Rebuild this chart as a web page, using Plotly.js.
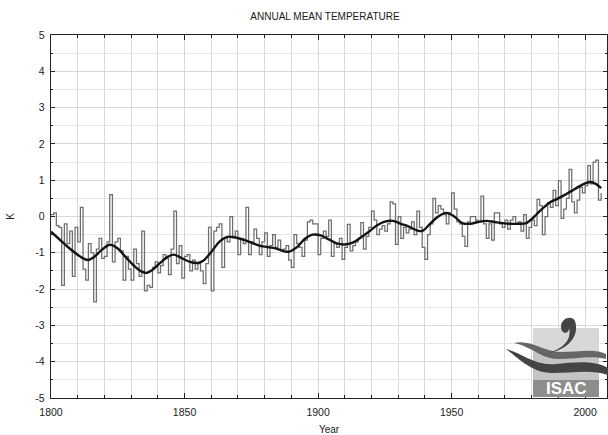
<!DOCTYPE html>
<html>
<head>
<meta charset="utf-8">
<script src="https://cdn.plot.ly/plotly-3.0.1.min.js"></script>
<style>
  html, body { margin: 0; padding: 0; background: #ffffff; }
  #chart { width: 608px; height: 435px; }
</style>
</head>
<body>
<div id="chart"></div>
<script>
// ---- data ----
const startYear = 1800;
const annualTemps = [
  0.05, 0.1, -0.25, -0.3, -1.9, -0.2, -0.75, -0.4, -1.65, -0.3,      // 1800-1809
  -0.7, 0.25, -1.45, -1.75, -0.75, -1.0, -2.35, -0.9, -0.6, -1.15,   // 1810-1819
  -1.1, -0.7, 0.6, -1.25, -0.7, -0.6, -0.95, -1.75, -1.1, -1.45,     // 1820-1829
  -1.75, -0.9, -1.3, -1.65, -0.4, -2.05, -1.9, -1.95, -1.4, -1.25,   // 1830-1839
  -1.55, -1.35, -1.05, -1.15, -1.6, -0.9, 0.15, -1.3, -0.8, -1.7,    // 1840-1849
  -1.1, -1.05, -1.5, -1.2, -1.45, -1.3, -1.5, -1.85, -1.3, -0.3,     // 1850-1859
  -2.05, -0.4, -0.3, -0.2, -1.4, -0.6, -0.7, 0.0, -0.55, -0.4,       // 1860-1869
  -1.05, -0.6, -0.75, 0.25, -1.05, -0.7, -0.35, -0.6, -1.05, -0.7,   // 1870-1879
  -0.45, -1.1, -0.8, -0.5, -0.85, -0.65, -0.95, -0.9, -0.8, -1.2,    // 1880-1889
  -1.4, -0.5, -0.75, -0.85, -1.1, -0.65, -0.15, -0.1, -0.2, -0.2,    // 1890-1899
  -1.05, -0.6, -0.4, -0.55, -0.1, -1.1, -0.75, -0.85, -0.6, -1.18,   // 1900-1909
  -0.85, -0.22, -0.95, -0.8, -0.7, -0.6, -0.17, -0.9, -0.55, -0.3,   // 1910-1919
  0.15, -0.1, -0.5, -0.35, -0.25, -0.4, -0.2, 0.4, 0.35, -0.77,      // 1920-1929
  0.0, -0.6, -0.3, -0.45, -0.35, -0.15, -0.5, 0.15, -0.3, -0.85,     // 1930-1939
  -1.18, -0.5, -0.2, 0.5, 0.1, 0.3, 0.2, 0.05, -0.2, 0.1,            // 1940-1949
  0.65, 0.2, -0.15, -0.2, -0.55, -0.82, -0.15, 0.0, 0.0, -0.1,       // 1950-1959
  -0.15, 0.56, -0.2, -0.6, -0.2, -0.65, 0.1, 0.1, -0.2, -0.3,        // 1960-1969
  -0.1, -0.35, -0.1, 0.0, -0.2, -0.15, -0.4, 0.05, -0.6, -0.3,       // 1970-1979
  -0.1, -0.25, 0.47, 0.3, -0.5, 0.0, 0.38, 0.25, 0.72, 0.3,          // 1980-1989
  0.98, -0.05, 0.2, 0.5, 1.3, 0.4, 0.1, 0.45, 0.8, 0.65,             // 1990-1999
  0.85, 1.4, 0.9, 1.5, 1.55, 0.45, 0.65                              // 2000-2006
];
const years = annualTemps.map((_, i) => startYear + i);

const smoothYears = [
  1800, 1803, 1806, 1809, 1812, 1814, 1816, 1819, 1822, 1825, 1828, 1831, 1834, 1836, 1838,
  1841, 1844, 1846, 1849, 1852, 1855, 1857, 1860, 1863, 1866, 1869, 1872, 1875, 1878, 1881,
  1884, 1887, 1889, 1892, 1895, 1898, 1901, 1904, 1907, 1910, 1913, 1916, 1919, 1922, 1925,
  1928, 1931, 1934, 1937, 1939, 1942, 1945, 1948, 1951, 1954, 1957, 1960, 1963, 1966, 1969,
  1972, 1975, 1978, 1981, 1983, 1985, 1987, 1990, 1993, 1996, 1999, 2002, 2004, 2006
];
const smoothTemps = [
  -0.42, -0.62, -0.82, -1.0, -1.15, -1.2, -1.12, -0.92, -0.78, -0.88, -1.12, -1.35, -1.52, -1.55, -1.47,
  -1.27, -1.1, -1.05, -1.15, -1.25, -1.28, -1.22, -0.98, -0.7, -0.56, -0.58, -0.64, -0.72, -0.8, -0.84,
  -0.88, -0.95, -0.97, -0.85, -0.62, -0.5, -0.52, -0.63, -0.74, -0.77, -0.72, -0.58, -0.42, -0.25, -0.14,
  -0.12, -0.2, -0.28, -0.38, -0.4, -0.2, 0.0, 0.1, 0.0, -0.18, -0.2, -0.15, -0.12, -0.15, -0.18,
  -0.2, -0.2, -0.18, 0.0, 0.15, 0.28, 0.4, 0.5, 0.62, 0.75, 0.88, 0.95, 0.9, 0.78
];

const xTickVals = [1800, 1850, 1900, 1950, 2000];
const yTickVals = [-5, -4, -3, -2, -1, 0, 1, 2, 3, 4, 5];

// ---- chart ----
const traces = [
  {
    x: years, y: annualTemps, type: 'scatter', mode: 'lines',
    line: { shape: 'hv', color: '#6e6e6e', width: 1.25 },
    hoverinfo: 'skip', showlegend: false
  },
  {
    x: smoothYears, y: smoothTemps, type: 'scatter', mode: 'lines',
    line: { shape: 'spline', smoothing: 1, color: '#141414', width: 2.4 },
    hoverinfo: 'skip', showlegend: false
  }
];

// logo helper: pixel -> paper coords
const L = 51, R = 607, T = 35, B = 398;
const px = v => ((v - L) / (R - L)).toFixed(4);
const py = v => ((B - v) / (B - T)).toFixed(4);
const P = (x, y) => px(x) + ',' + py(y);

const shapes = [
  { type: 'rect', xref: 'paper', yref: 'paper', x0: px(533), x1: px(599), y0: py(397), y1: py(328),
    fillcolor: '#d8d8d8', line: { width: 0 }, layer: 'above' },
  { type: 'rect', xref: 'paper', yref: 'paper', x0: px(533), x1: px(599), y0: py(380), y1: py(352),
    fillcolor: '#c4c4c4', line: { width: 0 }, layer: 'above' },
  { type: 'rect', xref: 'paper', yref: 'paper', x0: px(533), x1: px(599), y0: py(397), y1: py(380),
    fillcolor: '#8d8d8d', line: { width: 0 }, layer: 'above' },
  // lower swoosh band
  { type: 'path', xref: 'paper', yref: 'paper', layer: 'above', fillcolor: '#444444', line: { width: 0 },
    path: 'M ' + P(506, 349) +
          ' C ' + P(520, 352) + ' ' + P(535, 366) + ' ' + P(555, 364) +
          ' C ' + P(575, 362) + ' ' + P(595, 360) + ' ' + P(608, 368) +
          ' L ' + P(608, 375) +
          ' C ' + P(592, 369) + ' ' + P(572, 373) + ' ' + P(552, 373) +
          ' C ' + P(532, 373) + ' ' + P(518, 358) + ' ' + P(506, 349) + ' Z' },
  // upper swoosh band
  { type: 'path', xref: 'paper', yref: 'paper', layer: 'above', fillcolor: '#666666', line: { width: 0 },
    path: 'M ' + P(514, 343) +
          ' C ' + P(530, 339) + ' ' + P(545, 352) + ' ' + P(560, 352) +
          ' C ' + P(578, 352) + ' ' + P(595, 348) + ' ' + P(606, 354) +
          ' L ' + P(606, 359) +
          ' C ' + P(592, 355) + ' ' + P(575, 359) + ' ' + P(558, 359) +
          ' C ' + P(542, 359) + ' ' + P(530, 346) + ' ' + P(514, 343) + ' Z' },
  // curl
  { type: 'path', xref: 'paper', yref: 'paper', layer: 'above', fillcolor: '#444444', line: { width: 0 },
    path: 'M ' + P(548, 353) +
          ' C ' + P(568, 350) + ' ' + P(580, 336) + ' ' + P(575, 321) +
          ' C ' + P(572, 315) + ' ' + P(561, 318) + ' ' + P(561, 327) +
          ' C ' + P(561, 334) + ' ' + P(569, 335) + ' ' + P(569, 328) +
          ' C ' + P(572, 341) + ' ' + P(562, 349) + ' ' + P(548, 353) + ' Z' }
];

const layout = {
  width: 608, height: 435,
  margin: { l: L, r: 608 - R, t: T, b: 435 - B, pad: 0 },
  paper_bgcolor: '#ffffff', plot_bgcolor: '#ffffff',
  font: { family: '"Liberation Sans", Arial, sans-serif', size: 10, color: '#222222' },
  title: { text: 'ANNUAL MEAN TEMPERATURE', font: { size: 10, color: '#1a1a1a' },
           x: 325 / 608, xref: 'container', xanchor: 'center', y: 1 - 16 / 435, yref: 'container', yanchor: 'middle' },
  xaxis: {
    range: [1800, 2008.2], tickmode: 'array', tickvals: xTickVals, ticktext: xTickVals.map(String),
    ticks: 'inside', ticklen: 5, tickcolor: '#222', tickwidth: 1,
    showline: true, linecolor: '#222', linewidth: 1.2, mirror: 'ticks',
    showgrid: true, gridcolor: '#d8d8d8', gridwidth: 1, zeroline: false,
    minor: { dtick: 10, tick0: 1800, ticks: 'inside', ticklen: 3, tickcolor: '#222', showgrid: true, gridcolor: '#d8d8d8' },
    title: { text: 'Year', font: { size: 10 }, standoff: 12 },
    tickfont: { size: 10.5 }, ticklabelstandoff: 4, automargin: false, fixedrange: true
  },
  yaxis: {
    range: [-5, 5], tickmode: 'array', tickvals: yTickVals, ticktext: yTickVals.map(String),
    ticks: 'inside', ticklen: 4, tickcolor: '#222', tickwidth: 1,
    showline: true, linecolor: '#222', linewidth: 1.2, mirror: 'ticks',
    showgrid: true, gridcolor: '#d8d8d8', gridwidth: 1, zeroline: false,
    minor: { dtick: 0.5, tick0: 0, ticks: 'inside', ticklen: 2, tickcolor: '#222', showgrid: true, gridcolor: '#e6e6e6' },
    title: { text: 'K', font: { size: 10 }, standoff: 18 },
    tickfont: { size: 10.5 }, ticklabelstandoff: 3, automargin: false, fixedrange: true
  },
  shapes: shapes,
  annotations: [
    { xref: 'paper', yref: 'paper', x: px(566), y: py(389), text: '<b>ISAC</b>', showarrow: false,
      font: { family: '"Liberation Sans", Arial, sans-serif', size: 17, color: '#ffffff' }, xanchor: 'center', yanchor: 'middle' }
  ],
  showlegend: false
};

Plotly.newPlot('chart', traces, layout, { staticPlot: true, displayModeBar: false });
</script>
</body>
</html>
